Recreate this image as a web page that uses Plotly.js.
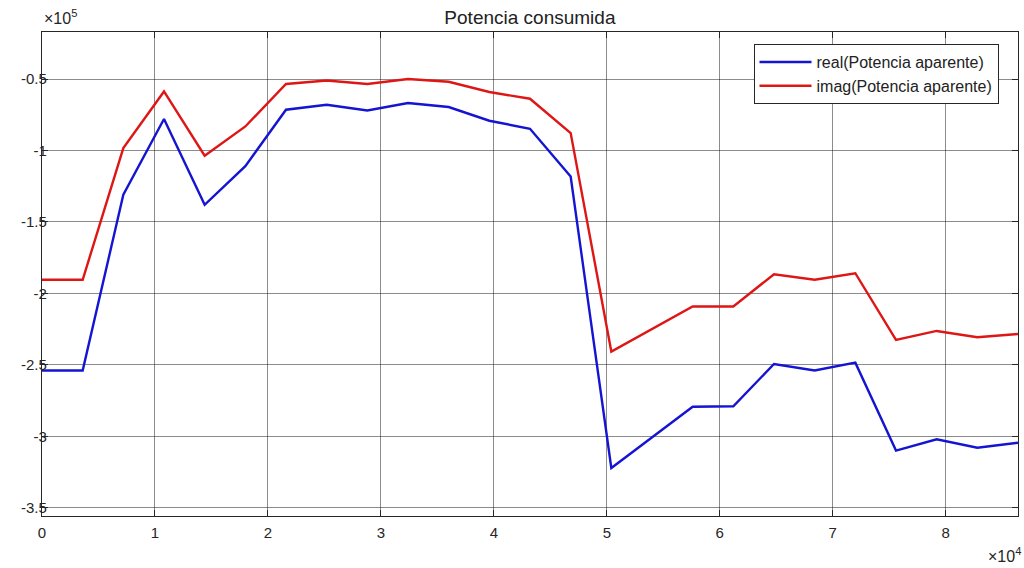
<!DOCTYPE html>
<html>
<head>
<meta charset="utf-8">
<script src="https://cdn.plot.ly/plotly-3.0.1.min.js"></script>
<style>html,body{margin:0;padding:0;background:#fff;}#chart{width:1024px;height:568px;}</style>
</head>
<body>
<div id="chart"></div>
<script>
// time in seconds (hourly samples over one day)
const timeSeconds = [0,3600,7200,10800,14400,18000,21600,25200,28800,32400,36000,39600,43200,46800,50400,54000,57600,61200,64800,68400,72000,75600,79200,82800,86400];
// real part of apparent power (W)
const realPower = [-254000,-254000,-131000,-78000,-138000,-111000,-71500,-68000,-72000,-66800,-69600,-79200,-84800,-118200,-322200,-300800,-279300,-279000,-249400,-254000,-248500,-310000,-302100,-308000,-304500];
// imaginary part of apparent power (VAr)
const imagPower = [-190500,-190500,-98300,-58700,-103700,-83200,-53500,-51000,-53500,-50000,-51900,-59100,-63800,-87800,-240700,-224900,-209200,-209200,-186600,-190500,-185900,-232600,-226300,-230700,-228400];
const seriesNames = ["real(Potencia aparente)", "imag(Potencia aparente)"];
const xTickVals = [0,10000,20000,30000,40000,50000,60000,70000,80000];
const xTickText = ["0","1","2","3","4","5","6","7","8"];
const yTickVals = [-350000,-300000,-250000,-200000,-150000,-100000,-50000];
const yTickText = ["-3.5","-3","-2.5","-2","-1.5","-1","-0.5"];

const fam = "Liberation Sans, Arial, sans-serif";
const font = {family: fam, size: 15, color: "#262626"};
const traces = [
  {x: timeSeconds, y: realPower, type: "scatter", mode: "lines", name: seriesNames[0],
   line: {color: "rgb(20,20,210)", width: 2.4}},
  {x: timeSeconds, y: imagPower, type: "scatter", mode: "lines", name: seriesNames[1],
   line: {color: "rgb(222,22,22)", width: 2.4}}
];
const axisCommon = {
  showline: true, linecolor: "#262626", linewidth: 1.2, mirror: "ticks",
  ticks: "inside", ticklen: 6, tickcolor: "#262626",
  showgrid: true, gridcolor: "rgba(0,0,0,0.45)", gridwidth: 1,
  zeroline: false, tickfont: font
};
const layout = {
  width: 1024, height: 568,
  margin: {l: 42, r: 6, t: 32, b: 52},
  paper_bgcolor: "#fff", plot_bgcolor: "#fff",
  font: font,
  title: {text: "Potencia consumida", x: 0.5175, xanchor: "center", y: 0.97, yanchor: "middle",
          font: {family: fam, size: 19, color: "#222"}},
  xaxis: Object.assign({}, axisCommon, {range: [0, 86400], tickvals: xTickVals, ticktext: xTickText, ticklabelstandoff: 3}),
  yaxis: Object.assign({}, axisCommon, {range: [-355800, -17100], tickvals: yTickVals, ticktext: yTickText, ticklabelstandoff: -9}),
  showlegend: true,
  legend: {x: 0.729, y: 0.975, xanchor: "left", yanchor: "top",
           bgcolor: "#fff", bordercolor: "#262626", borderwidth: 1,
           font: {family: fam, size: 16, color: "#222"},
           tracegroupgap: 0, itemwidth: 52},
  annotations: [
    {xref: "paper", yref: "paper", x: 0.0, y: 1.03, xanchor: "left", yanchor: "middle",
     text: "×10<sup>5</sup>", showarrow: false, font: {family: fam, size: 16, color: "#262626"}},
    {xref: "paper", yref: "paper", x: 1.005, y: -0.08, xanchor: "right", yanchor: "middle",
     text: "×10<sup>4</sup>", showarrow: false, font: {family: fam, size: 16, color: "#262626"}}
  ]
};
Plotly.newPlot("chart", traces, layout, {displayModeBar: false, staticPlot: true});
</script>
</body>
</html>
